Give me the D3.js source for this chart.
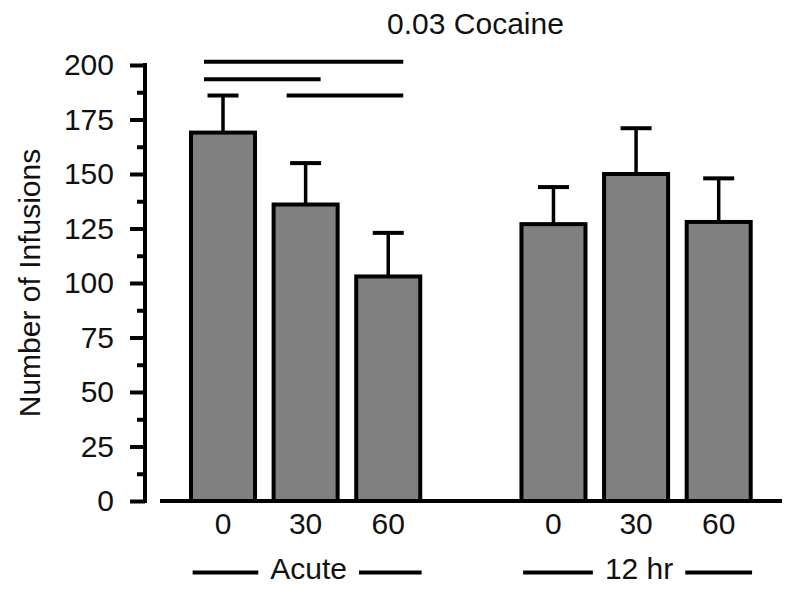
<!DOCTYPE html>
<html>
<head>
<meta charset="utf-8">
<script src="https://cdn.jsdelivr.net/npm/d3@7"></script>
<style>
    body { margin: 0; background: #fff; }
    text { font-family: "Liberation Sans", Arial, sans-serif; fill: #111; }
</style>
</head>
<body>
<svg id="chart" width="800" height="595"></svg>
<script>
// bar categories, "gap" is the empty slot between the two groups
let slots = ["a0", "a30", "a60", "gap", "h0", "h30", "h60"];
let barKeys = ["a0", "a30", "a60", "h0", "h30", "h60"];
let barLabels = ["0", "30", "60", "0", "30", "60"];
let barMeans = [169, 136, 103, 127, 150, 128];
let barErrors = [17, 19, 20, 17, 21, 20];

let groupNames = ["Acute", "12 hr"];
let groupKeys = [["a0", "a60"], ["h0", "h60"]];

// significance lines: [from, to] and their level on the y scale
let sigPairs = [["a0", "a60"], ["a0", "a30"], ["a30", "a60"]];
let sigLevels = [201.5, 193.5, 186];

let yTicks = [0, 25, 50, 75, 100, 125, 150, 175, 200];
let yMinorTicks = [12.5, 37.5, 62.5, 87.5, 112.5, 137.5, 162.5, 187.5];

let titleText = "0.03 Cocaine";
let yLabelText = "Number of Infusions";

let axisX = 145; // x-pos of the y axis line
let xStart = 160; // left end of the x axis line
let xEnd = 782; // right end of the x axis line
let barStroke = 4;
let fontSize = "30px";

let svg = d3.select("#chart");

let y = d3.scaleLinear()
    .domain([0, 200])
    .range([501, 65]);

let x = d3.scaleBand()
    .domain(slots)
    .range([181.7, 760])
    .paddingInner(0.225)
    .paddingOuter(0.1125);

drawBars();
drawAxes();
drawSigLines();
drawLabels();

/**
 * Bars with one-sided error bars
 */
function drawBars() {
    let g = svg.append("g");
    for (let i = 0; i < barKeys.length; i++) {
        let x0 = x(barKeys[i]);
        let cx = x0 + x.bandwidth() / 2;
        let top = y(barMeans[i] + barErrors[i]);

        // error stem
        g.append("line")
            .attr("x1", cx).attr("x2", cx)
            .attr("y1", y(barMeans[i])).attr("y2", top)
            .style("stroke", "#000")
            .style("stroke-width", 3.5);
        // error cap
        g.append("line")
            .attr("x1", cx - 15.5).attr("x2", cx + 15.5)
            .attr("y1", top).attr("y2", top)
            .style("stroke", "#000")
            .style("stroke-width", 4);

        g.append("rect")
            .attr("x", x0)
            .attr("y", y(barMeans[i]))
            .attr("width", x.bandwidth())
            .attr("height", y(0) - y(barMeans[i]))
            .style("fill", "#808080")
            .style("stroke", "#000")
            .style("stroke-width", barStroke);
    }
}

/**
 * y axis with major and minor ticks, plus the detached x axis line
 */
function drawAxes() {
    let minor = d3.axisLeft(y)
        .tickValues(yMinorTicks)
        .tickSize(8)
        .tickSizeOuter(0)
        .tickFormat("");
    let major = d3.axisLeft(y)
        .tickValues(yTicks)
        .tickSize(15)
        .tickSizeOuter(0)
        .tickPadding(16);

    let gMinor = svg.append("g")
        .attr("transform", "translate(" + axisX + ",0)")
        .call(minor);
    let gMajor = svg.append("g")
        .attr("transform", "translate(" + axisX + ",0)")
        .call(major);

    [gMinor, gMajor].forEach(function (g) {
        g.selectAll("line").style("stroke", "#000").style("stroke-width", 4);
        g.select(".domain").style("stroke", "#000").style("stroke-width", 4)
            .attr("d", "M0," + (y(0) + 2) + "V" + (y(200) - 2));
    });
    gMajor.selectAll("text")
        .style("font-size", fontSize)
        .style("font-family", "'Liberation Sans', Arial, sans-serif")
        .attr("fill", "#111");

    svg.append("line")
        .attr("x1", xStart).attr("x2", xEnd)
        .attr("y1", y(0)).attr("y2", y(0))
        .style("stroke", "#000")
        .style("stroke-width", 4);
}

/**
 * Horizontal lines marking significant comparisons
 */
function drawSigLines() {
    for (let i = 0; i < sigPairs.length; i++) {
        let xa = x(sigPairs[i][0]) + x.bandwidth() / 2 - 19;
        let xb = x(sigPairs[i][1]) + x.bandwidth() / 2 + 15;
        svg.append("line")
            .attr("x1", xa).attr("x2", xb)
            .attr("y1", y(sigLevels[i])).attr("y2", y(sigLevels[i]))
            .style("stroke", "#000")
            .style("stroke-width", 4);
    }
}

/**
 * Title, axis title, bar labels and group labels with side dashes
 */
function drawLabels() {
    svg.append("text")
        .attr("x", 475.5)
        .attr("y", 34)
        .attr("text-anchor", "middle")
        .style("font-size", fontSize)
        .text(titleText);

    svg.append("text")
        .attr("transform", "translate(40," + ((y(0) + y(200)) / 2) + ") rotate(-90)")
        .attr("text-anchor", "middle")
        .style("font-size", fontSize)
        .text(yLabelText);

    for (let i = 0; i < barKeys.length; i++) {
        svg.append("text")
            .attr("x", x(barKeys[i]) + x.bandwidth() / 2)
            .attr("y", 534)
            .attr("text-anchor", "middle")
            .style("font-size", fontSize)
            .text(barLabels[i]);
    }

    for (let i = 0; i < groupNames.length; i++) {
        let c = (x(groupKeys[i][0]) + x(groupKeys[i][1]) + x.bandwidth()) / 2;
        let t = svg.append("text")
            .attr("x", c + 3)
            .attr("y", 579)
            .attr("text-anchor", "middle")
            .style("font-size", fontSize)
            .text(groupNames[i]);
        let box = t.node().getBBox();
        svg.append("line") // left dash
            .attr("x1", c - 113).attr("x2", box.x - 12)
            .attr("y1", 572.5).attr("y2", 572.5)
            .style("stroke", "#000").style("stroke-width", 4);
        svg.append("line") // right dash
            .attr("x1", box.x + box.width + 12).attr("x2", c + 116)
            .attr("y1", 572.5).attr("y2", 572.5)
            .style("stroke", "#000").style("stroke-width", 4);
    }
}
</script>
</body>
</html>
